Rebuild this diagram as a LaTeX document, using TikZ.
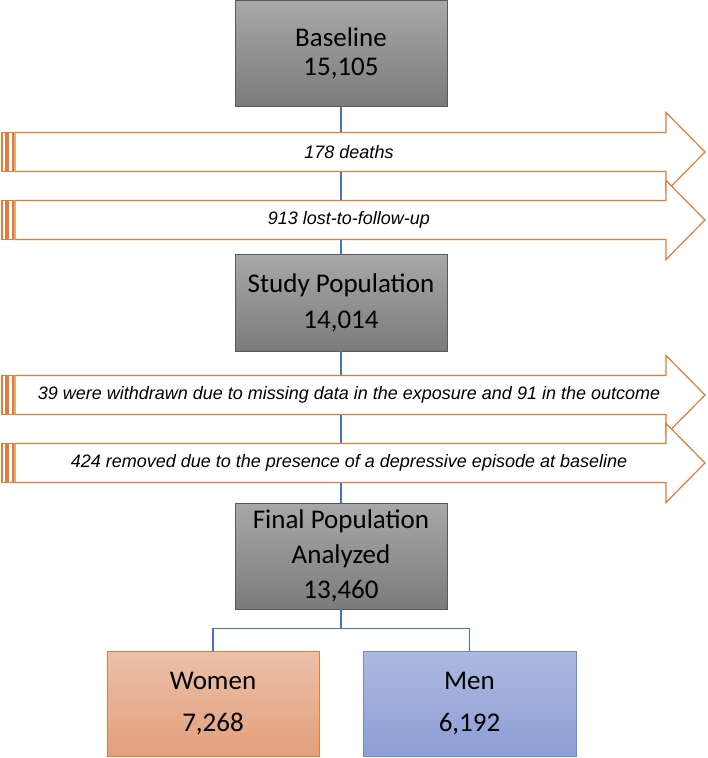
\documentclass[tikz,border=0pt]{standalone}
\usepackage{fontspec}
\setmainfont{Carlito}
\newfontfamily\armfont{Liberation Sans}
\usetikzlibrary{positioning}

\definecolor{lineblue}{HTML}{4472C4}
\definecolor{armorange}{HTML}{E07B39}
\definecolor{grayhi}{HTML}{A8A8A8}
\definecolor{graylo}{HTML}{7B7B7B}
\definecolor{womenhi}{HTML}{EBC0A8}
\definecolor{womenlo}{HTML}{E39F7C}
\definecolor{menhi}{HTML}{AEB9DF}
\definecolor{menlo}{HTML}{8C9ED6}

\tikzset{
  graybox/.style={draw=black!65, top color=grayhi, bottom color=graylo, minimum width=212pt, align=center, font=\fontsize{27}{29}\selectfont, inner sep=0pt},
  womenbox/.style={draw=armorange, top color=womenhi, bottom color=womenlo, minimum width=212pt, minimum height=105pt, align=center, font=\fontsize{27}{29}\selectfont, inner sep=0pt},
  menbox/.style={draw=lineblue!80, top color=menhi, bottom color=menlo, minimum width=213pt, minimum height=105pt, align=center, font=\fontsize{27}{29}\selectfont, inner sep=0pt},
  link/.style={draw=lineblue, line width=1.1pt},
  armline/.style={draw=armorange, line width=1.2pt, fill=white},
  armtext/.style={font=\armfont\itshape\fontsize{18}{20}\selectfont, inner sep=0pt}
}

% striped exclusion arrow: #1 = y of its axis, #2 = name, #3 = text
\newcommand{\exclarrow}[3]{%
  \draw[armline] (2,#1-19.5) rectangle (6,#1+19.5);
  \draw[armline] (8,#1-19.5) rectangle (13,#1+19.5);
  \draw[armline] (15,#1-19.5) -- (666,#1-19.5) -- (666,#1-39.5) -- (705,#1)
    -- (666,#1+39.5) -- (666,#1+19.5) -- (15,#1+19.5) -- cycle;
  \node[armtext] (#2) at (349,#1) {#3};
}

\begin{document}
\begin{tikzpicture}[x=1pt, y=-1pt]
  \useasboundingbox (0,0) rectangle (708,758);

  % population boxes
  \node[graybox, minimum height=106pt] (base) at (341,53.5) {Baseline\\15,105};
  \node[graybox, minimum height=97pt] (study) at (341,302.5) {Study Population\\[7pt]14,014};
  \node[graybox, minimum height=106pt] (final) at (341,556) {Final Population\\[6pt]Analyzed\\[6pt]13,460};
  \node[womenbox] (women) at (213,703.5) {Women\\[13pt]7,268};
  \node[menbox] (men) at (469.5,703.5) {Men\\[13pt]6,192};

  % flow lines
  \draw[link] (base) -- (study);
  \draw[link] (study) -- (final);
  \draw[link] (final.south) -- ++(0,19) -| (women.north);
  \draw[link] (final.south) -- ++(0,19) -| (men.north);

  % exclusions
  \exclarrow{152}{deaths}{178 deaths}
  \exclarrow{220}{lost}{913 lost-to-follow-up}
  \exclarrow{395}{missing}{39 were withdrawn due to missing data in the exposure and 91 in the outcome}
  \exclarrow{463}{depressive}{424 removed due to the presence of a depressive episode at baseline}
\end{tikzpicture}
\end{document}
